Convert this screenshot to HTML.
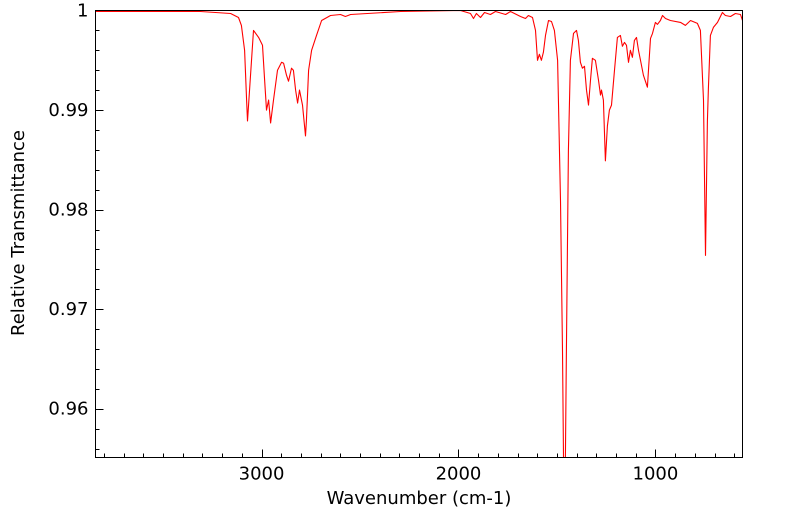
<!DOCTYPE html>
<html><head><meta charset="utf-8"><style>
html,body{margin:0;padding:0;background:#fff;}
svg{display:block;font-family:"DejaVu Sans","Liberation Sans",sans-serif;}
</style></head><body>
<svg id="chart" width="799" height="516">
<g id="ticks"></g>
<g id="labels"></g>
<path id="line" fill="none" stroke="#ff0000" stroke-width="1.1" stroke-linejoin="round"></path>
<rect x="95.5" y="10.5" width="647" height="447" fill="none" stroke="#000" stroke-width="1"></rect>
<text x="419" y="504" font-size="18" text-anchor="middle">Wavenumber (cm-1)</text>
<text transform="translate(24,233) rotate(-90)" font-size="18" text-anchor="middle">Relative Transmittance</text>
</svg>
<script>
const wavenumbers=[3843,3563,3310,3157,3117,3102,3086,3076,3071,3041,3015,2995,2985,2975,2964,2954,2939,2919,2898,2888,2873,2863,2848,2838,2827,2817,2807,2792,2777,2772,2761,2746,2721,2695,2650,2599,2574,2548,2294,1990,1939,1924,1909,1888,1868,1838,1812,1761,1736,1685,1660,1645,1624,1609,1599,1589,1579,1569,1558,1543,1528,1513,1497,1482,1472,1467,1462,1457,1452,1442,1432,1416,1401,1391,1381,1371,1360,1350,1340,1330,1320,1305,1289,1279,1274,1264,1254,1244,1234,1223,1208,1193,1178,1168,1157,1147,1137,1127,1117,1107,1096,1086,1076,1061,1041,1025,1015,1000,990,975,964,949,924,873,848,822,787,772,756,746,736,731,721,706,685,660,645,619,594,568,558];
const transmittance=[0.9999,0.9999,0.9999,0.9997,0.9993,0.9985,0.9960,0.9910,0.9889,0.9980,0.9973,0.9965,0.9932,0.9900,0.9910,0.9887,0.9910,0.9940,0.9948,0.9947,0.9935,0.9929,0.9942,0.9940,0.9920,0.9907,0.9920,0.9905,0.9874,0.9889,0.9940,0.9960,0.9975,0.9990,0.9995,0.9996,0.9994,0.9996,0.9999,1.0000,0.9997,0.9992,0.9997,0.9993,0.9998,0.9996,0.9999,0.9996,0.9999,0.9994,0.9992,0.9995,0.9993,0.9980,0.9950,0.9956,0.9950,0.9958,0.9975,0.9990,0.9989,0.9980,0.9950,0.9809,0.9658,0.9551,0.9540,0.9551,0.9658,0.9859,0.9950,0.9977,0.9980,0.9970,0.9948,0.9942,0.9944,0.9920,0.9905,0.9930,0.9952,0.9950,0.9930,0.9915,0.9920,0.9910,0.9849,0.9884,0.9900,0.9905,0.9940,0.9973,0.9975,0.9964,0.9968,0.9965,0.9948,0.9960,0.9953,0.9970,0.9973,0.9960,0.9950,0.9935,0.9923,0.9972,0.9977,0.9988,0.9986,0.9990,0.9995,0.9992,0.9990,0.9988,0.9985,0.9990,0.9987,0.9980,0.9910,0.9754,0.9889,0.9922,0.9975,0.9983,0.9988,0.9998,0.9995,0.9994,0.9997,0.9996,0.9990];
const xTickValues=[3000,2000,1000];
const xTickLabels=["3000","2000","1000"];
const yTickValues=[1,0.99,0.98,0.97,0.96];
const yTickLabels=["1","0.99","0.98","0.97","0.96"];

const L=95.5,R=742.5,T=10.5,B=457.5;
const xMax=3843,xMin=558,yMax=1,yMin=0.9551;
function xs(v){return L+(xMax-v)/(xMax-xMin)*(R-L);}
function ys(v){return T+(yMax-v)/(yMax-yMin)*(B-T);}
const ns="http://www.w3.org/2000/svg";
const tg=document.getElementById('ticks'),lg=document.getElementById('labels');
function ln(x1,y1,x2,y2){const l=document.createElementNS(ns,'line');
l.setAttribute('x1',x1);l.setAttribute('y1',y1);l.setAttribute('x2',x2);l.setAttribute('y2',y2);
l.setAttribute('stroke','#000');l.setAttribute('stroke-width','1');


tg.appendChild(l);}
for(let v=600;v<=3800;v+=100){const x=Math.round(xs(v))+0.5;const major=v%1000===0;ln(x,B,x,B-(major?8:4));}
for(let k=0;k<=22;k++){const v=0.956+k*0.002;if(v>1.0001)break;const y=Math.round(ys(v))+0.5;const major=Math.abs(v*100-Math.round(v*100))<1e-6;ln(L,y,L+(major?8:4),y);}
xTickValues.forEach((v,i)=>{const t=document.createElementNS(ns,'text');
t.setAttribute('x',xs(v));t.setAttribute('y',B+22);t.setAttribute('font-size','18');t.setAttribute('text-anchor','middle');


t.textContent=xTickLabels[i];lg.appendChild(t);});
yTickValues.forEach((v,i)=>{const t=document.createElementNS(ns,'text');
t.setAttribute('x',L-7);t.setAttribute('y',ys(v)+6);t.setAttribute('font-size','18');t.setAttribute('text-anchor','end');


t.textContent=yTickLabels[i];lg.appendChild(t);});
let d='';
wavenumbers.forEach((w,i)=>{let y=Math.min(ys(transmittance[i]),B);d+=(i?'L':'M')+xs(w).toFixed(1)+','+y.toFixed(1);});
document.getElementById('line').setAttribute('d',d);
</script>
</body></html>
